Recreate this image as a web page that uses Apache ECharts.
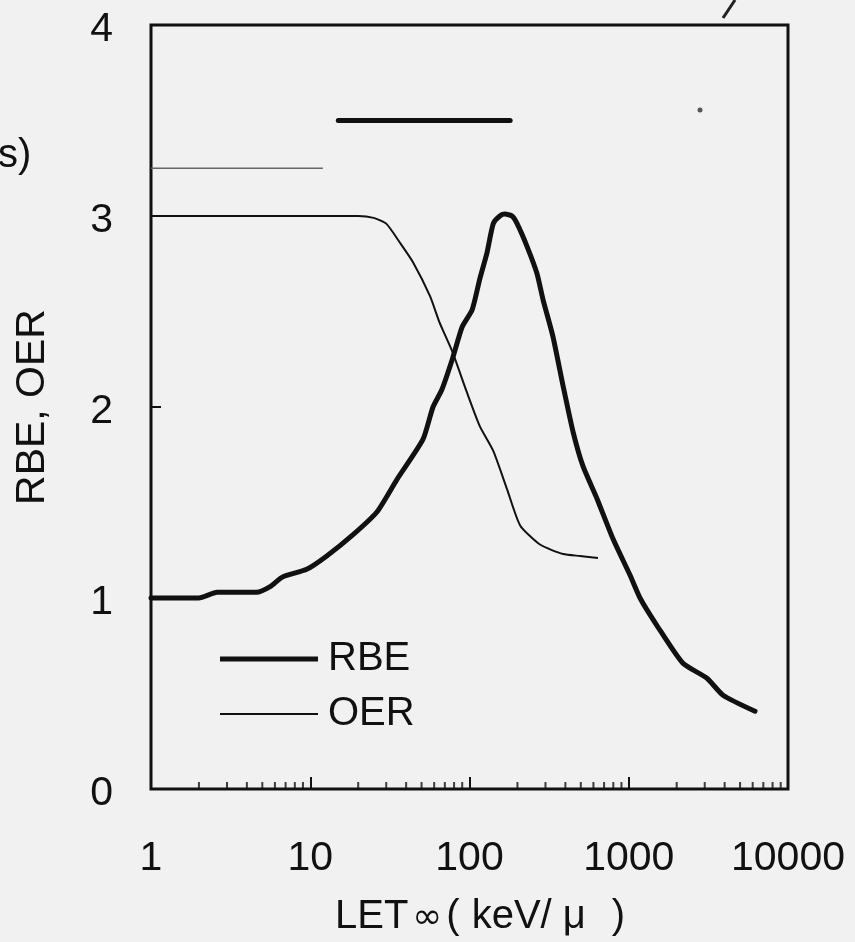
<!DOCTYPE html>
<html>
<head>
<meta charset="utf-8">
<script src="https://cdn.jsdelivr.net/npm/echarts@6/dist/echarts.min.js"></script>
<style>
html,body{margin:0;padding:0;background:#f1f1f1;}
#c{width:855px;height:942px;}
</style>
</head>
<body>
<div id="c"></div>
<script>
// ---- data ----
const rbeLET = [1, 2, 2.6, 4.6, 5.6, 6.7, 9.5, 12.7, 18.5, 26.2, 35, 51, 59, 67, 78, 90, 104, 116, 129, 141, 155, 167, 185, 199, 230, 265, 290, 334, 387, 447, 516, 632, 796, 1018, 1177, 1504, 2191, 3100, 3909, 6207];
const rbeValues = [1.0, 1.0, 1.03, 1.03, 1.06, 1.11, 1.15, 1.22, 1.33, 1.45, 1.62, 1.83, 2.0, 2.09, 2.25, 2.42, 2.51, 2.67, 2.81, 2.96, 3.0, 3.01, 3.0, 2.96, 2.84, 2.70, 2.56, 2.37, 2.11, 1.87, 1.69, 1.52, 1.31, 1.12, 1.0, 0.856, 0.658, 0.58, 0.491, 0.407];
const oerLET = [1, 5, 10, 20, 25, 30, 36.6, 44, 56.5, 65, 78, 96, 116, 141, 172, 208, 277, 387, 494, 641];
const oerValues = [3.0, 3.0, 3.0, 3.0, 2.99, 2.96, 2.86, 2.76, 2.58, 2.44, 2.29, 2.08, 1.90, 1.77, 1.57, 1.38, 1.28, 1.23, 1.22, 1.21];
const barLET = [15, 180];
const barValue = 3.5;
const thinLET = [1, 12];
const thinValue = 3.25;
const minorTickLET = [2,3,4,5,6,7,8,9,20,30,40,50,60,70,80,90,200,300,400,500,600,700,800,900,2000,3000,4000,5000,6000,7000,8000,9000];
const xTickLabels = ['1', '10', '100', '1000', '10000'];
const yTickLabels = ['0', '1', '2', '3', '4'];

const zip = (xs, ys) => xs.map((x, i) => [x, ys[i]]);
const font = '"Liberation Sans", Arial, sans-serif';
const ink = '#111';

const chart = echarts.init(document.getElementById('c'), null, {renderer: 'canvas'});
chart.setOption({
  backgroundColor: '#f1f1f1',
  animation: false,
  grid: {left: 151, right: 67, top: 25, bottom: 151, show: true, borderColor: ink, borderWidth: 3, backgroundColor: 'transparent'},
  legend: {
    data: [
      {name: 'RBE', icon: 'path://M0 0H98V5H0Z'},
      {name: 'OER', icon: 'path://M0 0H98V2H0Z'}
    ],
    orient: 'vertical',
    left: 220, top: 639, padding: 0,
    itemWidth: 98, itemHeight: 14, itemGap: 15,
    textStyle: {fontFamily: font, fontSize: 40, color: ink, lineHeight: 40, padding: [0, 0, 0, 5]}
  },
  xAxis: {
    type: 'log', logBase: 10, min: 1, max: 10000,
    name: '{a|LET}{inf|∞}{p|(}{a|keV/}{mu|μ}{q|)}', nameLocation: 'middle', nameGap: 108,
    nameTextStyle: {
      fontFamily: font, fontSize: 40, color: ink, padding: [0, 0, 0, 21],
      rich: {
        a: {fontFamily: font, fontSize: 40, color: ink},
        inf: {fontFamily: '"DejaVu Sans", sans-serif', fontSize: 36, color: ink, verticalAlign: 'bottom', padding: [0, 4, 0, 4]},
        p: {fontFamily: font, fontSize: 40, color: ink, padding: [0, 12, 0, 0]},
        mu: {fontFamily: font, fontSize: 40, color: ink, padding: [0, 0, 0, 11]},
        q: {fontFamily: font, fontSize: 40, color: ink, padding: [0, 0, 0, 26]}
      }
    },
    axisLine: {show: false},
    axisTick: {show: true, inside: true, length: 12, lineStyle: {color: ink, width: 2}},
    splitLine: {show: false},
    axisLabel: {
      fontFamily: font, fontSize: 41, color: ink, margin: 49,
      formatter: v => {
        const s = String(Math.round(v));
        return xTickLabels.indexOf(s) >= 0 ? s : '';
      }
    }
  },
  yAxis: {
    type: 'value', min: 0, max: 4, interval: 1,
    name: 'RBE, OER', nameLocation: 'middle', nameGap: 98,
    nameTextStyle: {fontFamily: font, fontSize: 41, color: ink},
    axisLine: {show: false},
    axisTick: {show: true, inside: true, length: 10, lineStyle: {color: ink, width: 2}},
    splitLine: {show: false},
    axisLabel: {fontFamily: font, fontSize: 41, color: ink, margin: 38,
      formatter: v => '{v|' + yTickLabels[Math.round(v)] + '}',
      rich: {v: {fontFamily: font, fontSize: 41, color: ink, padding: [9, 0, 0, 0]}}}
  },
  series: [
    {name: 'RBE', type: 'line', data: zip(rbeLET, rbeValues), showSymbol: false, symbol: 'none',
     smooth: 0.2,
     lineStyle: {color: ink, width: 5, join: 'round', cap: 'round'}, itemStyle: {color: ink}},
    {name: 'OER', type: 'line', data: zip(oerLET, oerValues), showSymbol: false, symbol: 'none',
     smooth: 0.2,
     lineStyle: {color: ink, width: 2, join: 'round'}, itemStyle: {color: ink}},
    {name: 'bar', type: 'line', data: barLET.map(x => [x, barValue]), showSymbol: false, symbol: 'none',
     lineStyle: {color: ink, width: 5, cap: 'round'}},
    {name: 'thin', type: 'line', data: thinLET.map(x => [x, thinValue]), showSymbol: false, symbol: 'none',
     lineStyle: {color: '#666', width: 1.5}},
    {name: 'minor', type: 'scatter', data: minorTickLET.map(x => [x, 0]), symbol: 'rect',
     symbolSize: [2, 7], symbolOffset: [0, -3.5], clip: false, silent: true,
     itemStyle: {color: ink}}
  ],
  graphic: [
    {type: 'text', left: -2, top: 136, style: {text: 's)', font: '40px "Liberation Sans", Arial, sans-serif', fill: ink}},
    {type: 'line', shape: {x1: 723, y1: 18, x2: 735, y2: 0}, style: {stroke: '#222', lineWidth: 3}},
    {type: 'circle', shape: {cx: 700, cy: 110, r: 2.5}, style: {fill: '#555'}}
  ]
});
</script>
</body>
</html>
